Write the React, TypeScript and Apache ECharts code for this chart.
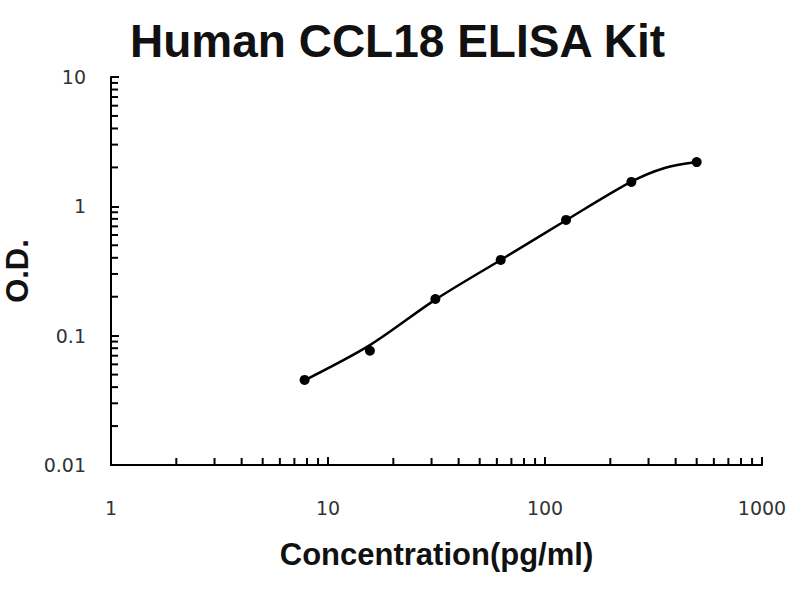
import { useEffect, useRef } from "react";
import * as echarts from "echarts";

// standard points (pg/ml, O.D.)
const concentrations = [7.8, 15.6, 31.25, 62.5, 125, 250, 500];
const odValues = [0.0455, 0.0765, 0.192, 0.385, 0.785, 1.545, 2.2];

// fitted curve
const curveX = [7.8, 15.6, 31.25, 62.5, 125, 250, 356, 500];
const curveY = [0.0452, 0.0845, 0.19, 0.385, 0.78, 1.55, 1.98, 2.2];

// minor tick positions on the log axes
const xMinorTicks = [2, 3, 4, 5, 6, 7, 8, 9, 20, 30, 40, 50, 60, 70, 80, 90, 200, 300, 400, 500, 600, 700, 800, 900];
const yMinorTicks = [0.02, 0.03, 0.04, 0.05, 0.06, 0.07, 0.08, 0.09, 0.2, 0.3, 0.4, 0.5, 0.6, 0.7, 0.8, 0.9, 2, 3, 4, 5, 6, 7, 8, 9];

export default function App() {
  const chartRef = useRef<HTMLDivElement>(null);

  useEffect(() => {
    if (!chartRef.current) return;
    const chart = echarts.init(chartRef.current, null, { renderer: "svg" });

    const tickData = [
      ...xMinorTicks.map((v) => [v, 0.01, 0]),
      ...yMinorTicks.map((v) => [1, v, 1]),
    ];

    const labelStyle = {
      color: "#333",
      fontSize: 19,
      fontFamily: "DejaVu Sans",
      formatter: (v: number) => String(v),
    };
    const nameStyle = { color: "#111", fontSize: 31, fontWeight: "bold" as const, fontFamily: "Liberation Sans" };

    chart.setOption({
      animation: false,
      backgroundColor: "#fff",
      title: {
        text: "Human CCL18 ELISA Kit",
        left: 125,
        top: 13,
        textStyle: { color: "#111", fontSize: 46, fontWeight: "bold", fontFamily: "Liberation Sans" },
      },
      grid: { left: 111, right: 38, top: 77, bottom: 135, outerBoundsMode: "none", containLabel: false },
      xAxis: {
        type: "log",
        logBase: 10,
        min: 1,
        max: 1000,
        name: "Concentration(pg/ml)",
        nameLocation: "middle",
        nameGap: 74,
        nameTextStyle: nameStyle,
        axisLine: { lineStyle: { color: "#000", width: 2 } },
        axisTick: { inside: true, length: 8, lineStyle: { color: "#000", width: 2 } },
        axisLabel: { ...labelStyle, margin: 33 },
        splitLine: { show: false },
      },
      yAxis: {
        type: "log",
        logBase: 10,
        min: 0.01,
        max: 10,
        name: "O.D.",
        nameLocation: "middle",
        nameGap: 76,
        nameTextStyle: nameStyle,
        axisLine: { lineStyle: { color: "#000", width: 2 } },
        axisTick: { inside: true, length: 8, lineStyle: { color: "#000", width: 2 } },
        axisLabel: { ...labelStyle, margin: 25 },
        splitLine: { show: false },
      },
      series: [
        {
          type: "custom",
          silent: true,
          clip: false,
          data: tickData,
          renderItem: (_params: any, api: any) => {
            const p = api.coord([api.value(0), api.value(1)]);
            const kind = api.value(2);
            return {
              type: "line",
              shape:
                kind === 0
                  ? { x1: p[0], y1: p[1], x2: p[0], y2: p[1] - 7 }
                  : { x1: p[0], y1: p[1], x2: p[0] + 7, y2: p[1] },
              style: { stroke: "#000", lineWidth: 2 },
            };
          },
        },
        {
          type: "line",
          data: curveX.map((c, i) => [c, curveY[i]]),
          smooth: 0.3,
          showSymbol: false,
          lineStyle: { color: "#000", width: 2.5 },
        },
        {
          type: "scatter",
          data: concentrations.map((c, i) => [c, odValues[i]]),
          symbol: "circle",
          symbolSize: 10,
          itemStyle: { color: "#000", opacity: 1 },
        },
      ],
    });

    return () => chart.dispose();
  }, []);

  return (
    <div
      ref={chartRef}
      style={{ position: "fixed", left: 0, top: 0, width: 800, height: 600, background: "#fff" }}
    />
  );
}
